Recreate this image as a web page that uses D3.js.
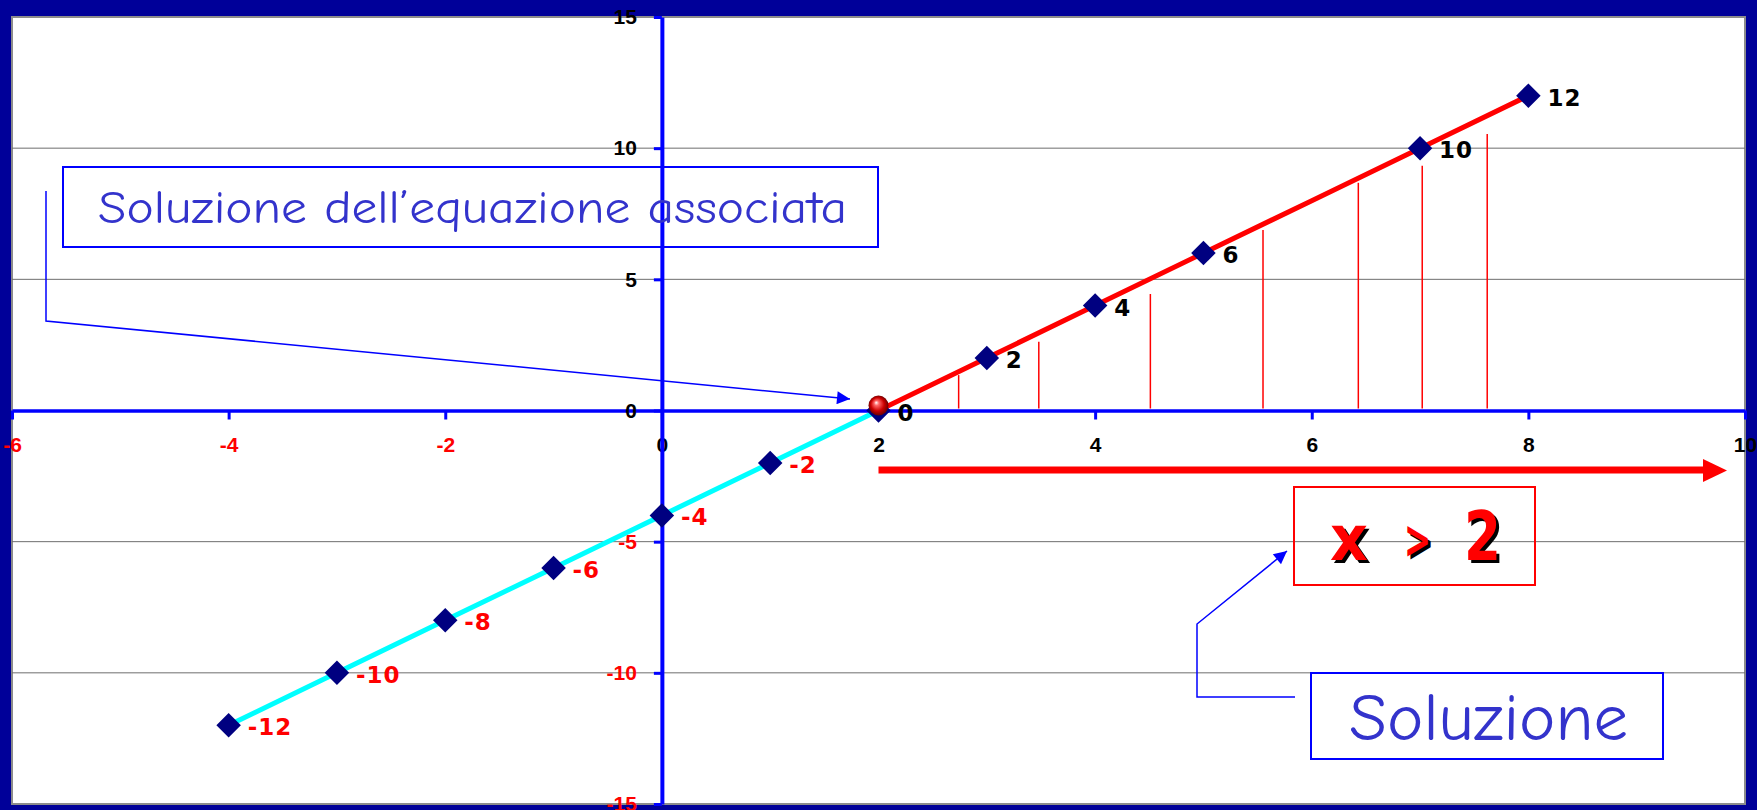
<!DOCTYPE html>
<html>
<head>
<meta charset="utf-8">
<script src="https://cdn.jsdelivr.net/npm/d3@7"></script>
<style>
html, body { margin: 0; padding: 0; background: #000099; overflow: hidden; }
</style>
</head>
<body>
<svg id="chart" width="1757" height="810"></svg>
<script>
// y = 2x - 4, split at the root x = 2
const lowX = [-4, -3, -2, -1, 0, 1, 2]
const lowY = [-12, -10, -8, -6, -4, -2, 0]
const highX = [2, 3, 4, 5, 6, 7, 8]
const highY = [0, 2, 4, 6, 8, 10, 12]
const highMarked = [3, 4, 5, 7, 8]       // diamonds drawn on the red part
const rootX = 2, rootY = 0
// red hatching under the positive part
const hatchX = [2.74, 3.48, 4.51, 5.55, 6.43, 7.02, 7.62]
const hatchTop = [1.35, 2.62, 4.44, 6.88, 8.68, 9.33, 10.54]
const xTicks = [-6, -4, -2, 0, 2, 4, 6, 8, 10]
const yTicks = [-15, -10, -5, 0, 5, 10, 15]

const comic = '"Comic Sans MS", "Comic Neue", Lato, sans-serif'
const labelFont = '"Comic Sans MS", "DejaVu Sans", sans-serif'

let svg = d3.select('#chart'),
    W = +svg.attr('width'),
    H = +svg.attr('height'),
    pLeft = 12, pRight = 1745, pTop = 17, pBottom = 804,
    x = d3.scaleLinear().domain([-6, 10]).range([pLeft, pRight]),
    y = d3.scaleLinear().domain([-15, 15]).range([pBottom, pTop])

let lowPts = lowX.map((v, i) => ({x: v, y: lowY[i]}))
let highPts = highX.map((v, i) => ({x: v, y: highY[i]}))

let defs = svg.append('defs')
defs.append('marker')
    .attr('id', 'blueHead')
    .attr('viewBox', '0 0 10 10')
    .attr('refX', 10).attr('refY', 5)
    .attr('markerUnits', 'userSpaceOnUse')
    .attr('markerWidth', 16).attr('markerHeight', 13)
    .attr('orient', 'auto')
    .append('path').attr('d', 'M0,0L10,5L0,10Z').attr('fill', '#0000ff')
let grad = defs.append('radialGradient')
    .attr('id', 'ball').attr('cx', '50%').attr('cy', '50%').attr('r', '55%')
    .attr('fx', '38%').attr('fy', '35%')
grad.append('stop').attr('offset', '0%').attr('stop-color', '#ffffff')
grad.append('stop').attr('offset', '22%').attr('stop-color', '#ff6666')
grad.append('stop').attr('offset', '60%').attr('stop-color', '#cc0000')
grad.append('stop').attr('offset', '100%').attr('stop-color', '#550000')

// background + plot area
svg.append('rect').attr('width', W).attr('height', H).attr('fill', '#000099')
svg.append('rect')
    .attr('x', pLeft).attr('y', pTop)
    .attr('width', pRight - pLeft).attr('height', pBottom - pTop)
    .attr('fill', '#ffffff').attr('stroke', '#8c8c8c').attr('stroke-width', 2)

// horizontal grid
svg.append('g').selectAll('line')
    .data(yTicks.filter(d => d !== 0 && Math.abs(d) !== 15))
    .join('line')
    .attr('x1', pLeft).attr('x2', pRight)
    .attr('y1', d => y(d)).attr('y2', d => y(d))
    .attr('stroke', '#6e6e6e').attr('stroke-width', 1)

// hatching
svg.append('g').selectAll('line')
    .data(hatchX)
    .join('line')
    .attr('x1', d => x(d)).attr('x2', d => x(d))
    .attr('y1', y(0) - 2).attr('y2', (d, i) => y(hatchTop[i]))
    .attr('stroke', '#ff0000').attr('stroke-width', 1.5)

// axes
function styleAxis(g) {
    g.attr('font-size', null).attr('font-family', null)
    g.select('.domain').attr('stroke', '#0000ff')
    g.selectAll('.tick line').attr('stroke', '#0000ff').attr('stroke-width', 3)
    g.selectAll('.tick text')
        .attr('fill', d => d < 0 ? '#ff0000' : '#000000')
        .style('font-family', '"Liberation Sans", Arial, sans-serif')
        .style('font-weight', 'bold')
        .style('font-size', '21px')
}
let gx = svg.append('g')
    .attr('transform', `translate(0,${y(0)})`)
    .call(d3.axisBottom(x).tickValues(xTicks).tickFormat(d => String(d))
        .tickSize(9).tickSizeOuter(0).tickPadding(18))
styleAxis(gx)
gx.select('.domain').attr('stroke-width', 3.5)

let gy = svg.append('g')
    .attr('transform', `translate(${x(0)},0)`)
    .call(d3.axisLeft(y).tickValues(yTicks).tickFormat(d => String(d))
        .tickSize(8).tickSizeOuter(0).tickPadding(17))
styleAxis(gy)
gy.select('.domain').attr('stroke-width', 4)

// the two pieces of the line
let line = d3.line().x(d => x(d.x)).y(d => y(d.y))
svg.append('path').datum(lowPts).attr('d', line)
    .attr('fill', 'none').attr('stroke', '#00ffff').attr('stroke-width', 5)
svg.append('path').datum(highPts).attr('d', line)
    .attr('fill', 'none').attr('stroke', '#ff0000').attr('stroke-width', 5)

// diamonds
let diamond = d3.symbol(d3.symbolSquare, 300)
let marked = lowPts.concat(highPts.filter(d => highMarked.includes(d.x)))
svg.append('g').selectAll('path')
    .data(marked)
    .join('path')
    .attr('d', diamond)
    .attr('transform', d => `translate(${x(d.x)},${y(d.y)}) rotate(45)`)
    .attr('fill', '#000080')

// value labels
let labels = lowPts.filter(d => d.x !== rootX).map(d => ({...d, c: '#ff0000'}))
    .concat(highPts.filter(d => highMarked.includes(d.x)).map(d => ({...d, c: '#000000'})))
    .concat([{x: rootX, y: rootY, c: '#000000'}])
svg.append('g').selectAll('text')
    .data(labels)
    .join('text')
    .attr('x', d => x(d.x) + 19)
    .attr('y', d => y(d.y) + 10)
    .attr('fill', d => d.c)
    .style('font-family', labelFont)
    .style('font-weight', 'bold')
    .style('font-size', '23px')
    .style('letter-spacing', '1px')
    .text(d => String(d.y))

// root marker (red ball)
svg.append('circle')
    .attr('cx', x(rootX)).attr('cy', y(rootY) - 5).attr('r', 10)
    .attr('fill', 'url(#ball)')

// annotation: equation root
svg.append('rect')
    .attr('x', 63).attr('y', 167).attr('width', 815).attr('height', 80)
    .attr('fill', 'none').attr('stroke', '#0000ff').attr('stroke-width', 2)
svg.append('text')
    .attr('x', 98).attr('y', 223)
    .attr('textLength', 749).attr('lengthAdjust', 'spacingAndGlyphs')
    .attr('fill', '#3333cc')
    .style('font-family', comic).style('font-size', '46px')
    .text('Soluzione dell’equazione associata')
svg.append('polyline')
    .attr('points', [[46, 191], [46, 321], [850, 399]].join(' '))
    .attr('fill', 'none').attr('stroke', '#0000ff').attr('stroke-width', 1.5)
    .attr('marker-end', 'url(#blueHead)')

// red arrow x > 2
svg.append('line')
    .attr('x1', x(rootX)).attr('x2', 1704)
    .attr('y1', 470).attr('y2', 470)
    .attr('stroke', '#ff0000').attr('stroke-width', 7)
svg.append('path')
    .attr('d', 'M1703,459L1727,470.5L1703,482Z')
    .attr('fill', '#ff0000')

svg.append('rect')
    .attr('x', 1294).attr('y', 487).attr('width', 241).attr('height', 98)
    .attr('fill', 'none').attr('stroke', '#ff0000').attr('stroke-width', 2)
let ineq = [
    {t: 'x', x: 1330, y: 560, s: 62, w: 38},
    {t: '>', x: 1404, y: 558, s: 54, w: 27},
    {t: '2', x: 1464, y: 560, s: 68, w: 37}
]
;[['#000000', 3], ['#ff0000', 0]].forEach(([c, off]) => {
    svg.append('g').selectAll('text')
        .data(ineq)
        .join('text')
        .attr('x', d => d.x + off).attr('y', d => d.y + off)
        .attr('textLength', d => d.w).attr('lengthAdjust', 'spacingAndGlyphs')
        .attr('fill', c)
        .style('font-family', labelFont)
        .style('font-weight', 'bold')
        .style('font-size', d => d.s + 'px')
        .text(d => d.t)
})

// annotation: solution
svg.append('rect')
    .attr('x', 1311).attr('y', 673).attr('width', 352).attr('height', 86)
    .attr('fill', 'none').attr('stroke', '#0000ff').attr('stroke-width', 2)
svg.append('text')
    .attr('x', 1349).attr('y', 740)
    .attr('textLength', 279).attr('lengthAdjust', 'spacingAndGlyphs')
    .attr('fill', '#3333cc')
    .style('font-family', comic).style('font-size', '67px')
    .text('Soluzione')
svg.append('polyline')
    .attr('points', [[1295, 697], [1197, 697], [1197, 624], [1287, 551]].join(' '))
    .attr('fill', 'none').attr('stroke', '#0000ff').attr('stroke-width', 1.5)
    .attr('marker-end', 'url(#blueHead)')
</script>
</body>
</html>
